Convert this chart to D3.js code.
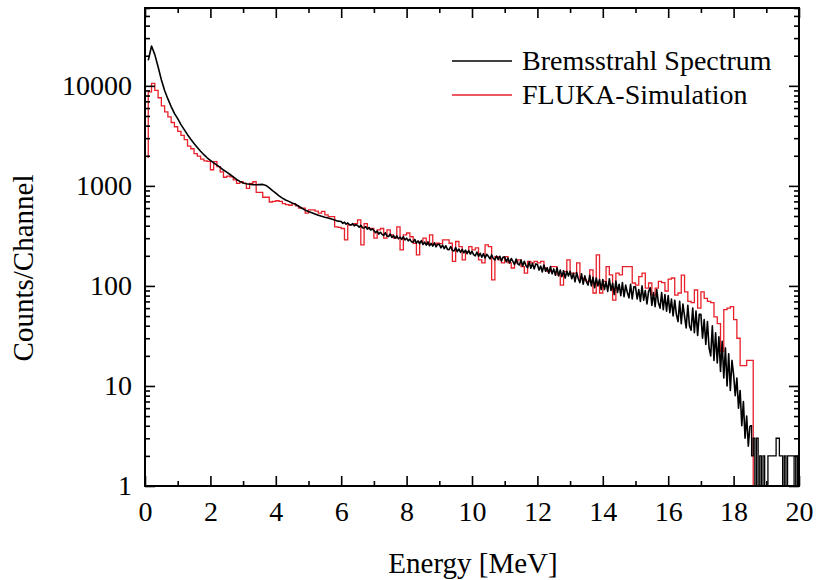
<!DOCTYPE html>
<html>
<head>
<meta charset="utf-8">
<script src="https://cdn.jsdelivr.net/npm/d3@7"></script>
<style>
  body { margin: 0; background: #fff; }
  text { font-family: "Liberation Serif", "Times New Roman", serif; fill: #000; }
</style>
</head>
<body>
<div id="chart"></div>
<script>
// Measured spectrum, low part: one value every 0.1 MeV from 0.1 to 5.9 MeV
const bremsLowStart = 0.1;
const bremsLowStep = 0.1;
const bremsLow = [
  18000, 25000, 20500, 15500, 11500, 9000, 7400, 6200, 5300, 4700,
  4100, 3650, 3250, 2920, 2650, 2420, 2220, 2050, 1910, 1800,
  1700, 1610, 1530, 1440, 1370, 1300, 1230, 1160, 1110, 1070,
  1050, 1040, 1030, 1025, 1030, 1035, 1010, 955, 895, 845,
  795, 755, 722, 700, 675, 655, 625, 598, 572, 555,
  540, 524, 508, 497, 486, 477, 466, 455, 444
];

// Measured spectrum, noisy part: one value every 0.05 MeV from 6.0 to 18.45 MeV
const bremsHighStart = 6.0;
const bremsHighStep = 0.05;
const bremsHigh = [
  440, 422, 434, 414, 426, 410, 406, 420, 398, 410, 402, 386, 404, 382, 380, 392, 370, 384, 362, 372,
  358, 340, 354, 330, 344, 328, 320, 340, 316, 312, 330, 306, 318, 300, 316, 296, 308, 292, 310, 288,
  300, 282, 294, 276, 274, 292, 268, 282, 264, 284, 260, 274, 256, 276, 252, 266, 250, 270, 246, 260,
  260, 240, 256, 236, 252, 232, 230, 248, 226, 224, 242, 220, 234, 216, 232, 214, 228, 210, 226, 208,
  222, 206, 200, 218, 198, 212, 194, 210, 190, 207, 198, 186, 204, 188, 182, 199, 184, 198, 178, 194,
  194, 174, 190, 170, 188, 176, 164, 186, 166, 162, 182, 158, 176, 160, 152, 174, 150, 168, 148, 166,
  164, 144, 158, 138, 162, 140, 152, 134, 156, 132, 148, 128, 152, 126, 144, 124, 142, 120, 140, 126,
  140, 118, 134, 110, 136, 118, 108, 132, 104, 126, 110, 102, 128, 100, 122, 96, 120, 100, 116, 92,
  116, 92, 110, 88, 118, 90, 106, 82, 112, 86, 104, 80, 108, 78, 102, 86, 76, 104, 74, 98,
  98, 74, 92, 70, 100, 72, 90, 66, 88, 96, 64, 86, 62, 92, 68, 60, 86, 58, 82, 56,
  80, 54, 74, 50, 72, 52, 44, 70, 42, 66, 50, 38, 64, 40, 36, 60, 34, 56, 32, 52,
  52, 30, 46, 26, 44, 24, 20, 40, 18, 34, 17, 31, 14, 28, 12, 24, 10, 21, 9, 18,
  13, 8, 12, 6, 9, 4, 7, 3, 5, 2.5
];

// Tail of the measured spectrum, channels of 0.05 MeV from 18.5 to 20 MeV
const tailStart = 18.5;
const tailStep = 0.05;
const tailCounts = [
  4, 2, 3, 1, 3, 1, 2, 1, 2, 1,
  1, 2, 2, 2, 2, 2, 3, 3, 2, 2,
  1, 2, 1, 2, 2, 2, 2, 1, 2, 1, 1
];

// FLUKA histogram: start level at 0.1 MeV, then one value per 0.1 MeV bin up to 19 MeV
const flukaStart = 0.1;
const flukaStep = 0.1;
const flukaCounts = [
  1900,
  8700, 10600, 9000, 7600, 6300, 5500, 4900, 4300, 3900,
  3500, 3200, 2900, 2500, 2350, 2100, 1980, 1850, 1780, 1760,
  1450, 1750, 1560, 1380, 1220, 1250, 1230, 1150, 1060, 1100,
  1060, 944, 1060, 1100, 860, 860, 770, 770, 690, 700,
  710, 700, 666, 650, 640, 666, 630, 600, 600, 535,
  575, 575, 560, 535, 555, 513, 493, 493, 390, 385,
  375, 288, 407, 410, 420, 457, 257, 420, 375, 375,
  300, 363, 375, 300, 363, 324, 300, 390, 229, 324,
  338, 310, 267, 204, 275, 300, 260, 324, 260, 267,
  265, 288, 288, 267, 176, 278, 247, 182, 220, 247,
  229, 240, 182, 170, 257, 247, 115, 196, 182, 170,
  196, 170, 151, 170, 182, 156, 134, 176, 170, 176,
  170, 176, 151, 139, 156, 156, 129, 102, 139, 182,
  134, 134, 170, 119, 115, 111, 145, 85, 204, 85,
  111, 156, 129, 72, 134, 129, 156, 156, 156, 107,
  102, 124, 134, 95, 107, 81, 95, 111, 108, 89,
  117, 120, 81, 85, 128, 87, 70, 68, 91, 60,
  87, 75, 70, 68, 49, 42, 22, 58, 60, 62,
  46, 30, 16, 16, 18, 18, 1, 1, 1, 1
];

const xTicks = [0, 2, 4, 6, 8, 10, 12, 14, 16, 18, 20];
const xMinorTicks = [1, 3, 5, 7, 9, 11, 13, 15, 17, 19];
const yTicks = [1, 10, 100, 1000, 10000];

const seriesNames = ["Bremsstrahl Spectrum", "FLUKA-Simulation"];
const seriesColors = ["#000000", "#e8202a"];

const width = 819;
const height = 580;
const margin = { top: 8, right: 20, bottom: 94, left: 145 };

const svg = d3.select("#chart")
  .append("svg")
  .attr("width", width)
  .attr("height", height);

const x = d3.scaleLinear()
  .domain([0, 20])
  .range([margin.left, width - margin.right]);

const y = d3.scaleLog()
  .domain([1, 60000])
  .range([height - margin.bottom, margin.top])
  .clamp(true);

// minor log ticks 2..9 of every decade
const yMinorTicks = [];
for (let p = 1; p <= 10000; p *= 10) {
  for (let m = 2; m <= 9; m++) {
    if (m * p <= 60000) yMinorTicks.push(m * p);
  }
}

const bremsData = bremsLow.map((v, i) => ({ e: bremsLowStart + i * bremsLowStep, v }))
  .concat(bremsHigh.map((v, i) => ({ e: bremsHighStart + i * bremsHighStep, v })))
  .concat([{ e: tailStart, v: tailCounts[0] }]);
const tailData = tailCounts.map((v, i) => ({ e: tailStart + i * tailStep, v }));
const flukaData = flukaCounts.map((v, i) => ({ e: flukaStart + i * flukaStep, v }));

svg.append("clipPath").attr("id", "plot-clip")
  .append("rect")
  .attr("x", margin.left)
  .attr("y", margin.top)
  .attr("width", width - margin.left - margin.right)
  .attr("height", height - margin.top - margin.bottom);

const plot = svg.append("g").attr("clip-path", "url(#plot-clip)");

// FLUKA histogram
plot.append("path")
  .datum(flukaData)
  .attr("fill", "none")
  .attr("stroke", seriesColors[1])
  .attr("stroke-width", 1.3)
  .attr("d", d3.line().x(d => x(d.e)).y(d => y(d.v)).curve(d3.curveStepBefore));

// Measured spectrum
plot.append("path")
  .datum(bremsData)
  .attr("fill", "none")
  .attr("stroke", seriesColors[0])
  .attr("stroke-width", 1.6)
  .attr("stroke-linejoin", "round")
  .attr("d", d3.line().x(d => x(d.e)).y(d => y(d.v)));

plot.append("path")
  .datum(tailData)
  .attr("fill", "none")
  .attr("stroke", seriesColors[0])
  .attr("stroke-width", 1.3)
  .attr("d", d3.line().x(d => x(d.e)).y(d => y(d.v)).curve(d3.curveStepAfter));

// Axes with inward ticks on all four sides
const bottomY = height - margin.bottom;
const rightX = width - margin.right;

function styleAxis(g) {
  g.select(".domain").remove();
  g.selectAll(".tick line").attr("stroke", "#000").attr("stroke-width", 1.6);
  g.selectAll(".tick text").attr("font-size", 28).attr("font-family", "Liberation Serif");
}

svg.append("g")
  .attr("transform", `translate(0,${bottomY})`)
  .call(d3.axisBottom(x).tickValues(xTicks).tickSize(-10).tickPadding(15).tickFormat(d3.format("d")))
  .call(styleAxis);
svg.append("g")
  .attr("transform", `translate(0,${bottomY})`)
  .call(d3.axisBottom(x).tickValues(xMinorTicks).tickSize(-5).tickFormat(""))
  .call(styleAxis);
svg.append("g")
  .attr("transform", `translate(0,${margin.top})`)
  .call(d3.axisTop(x).tickValues(xTicks).tickSize(-10).tickFormat(""))
  .call(styleAxis);
svg.append("g")
  .attr("transform", `translate(0,${margin.top})`)
  .call(d3.axisTop(x).tickValues(xMinorTicks).tickSize(-5).tickFormat(""))
  .call(styleAxis);

svg.append("g")
  .attr("transform", `translate(${margin.left},0)`)
  .call(d3.axisLeft(y).tickValues(yTicks).tickSize(-10).tickPadding(13).tickFormat(d3.format("d")))
  .call(styleAxis);
svg.append("g")
  .attr("transform", `translate(${margin.left},0)`)
  .call(d3.axisLeft(y).tickValues(yMinorTicks).tickSize(-5).tickFormat(""))
  .call(styleAxis);
svg.append("g")
  .attr("transform", `translate(${rightX},0)`)
  .call(d3.axisRight(y).tickValues(yTicks).tickSize(-10).tickFormat(""))
  .call(styleAxis);
svg.append("g")
  .attr("transform", `translate(${rightX},0)`)
  .call(d3.axisRight(y).tickValues(yMinorTicks).tickSize(-5).tickFormat(""))
  .call(styleAxis);

// frame
svg.append("rect")
  .attr("x", margin.left)
  .attr("y", margin.top)
  .attr("width", rightX - margin.left)
  .attr("height", bottomY - margin.top)
  .attr("fill", "none")
  .attr("stroke", "#000")
  .attr("stroke-width", 2);

// axis titles
svg.append("text")
  .attr("x", 473)
  .attr("y", 573)
  .attr("text-anchor", "middle")
  .attr("font-size", 29)
  .text("Energy [MeV]");

svg.append("text")
  .attr("transform", "translate(33,268) rotate(-90)")
  .attr("text-anchor", "middle")
  .attr("font-size", 29)
  .text("Counts/Channel");

// legend
const legend = svg.append("g").attr("transform", "translate(452,61)");
seriesNames.forEach((name, i) => {
  const row = legend.append("g").attr("transform", `translate(0,${i * 34})`);
  row.append("line")
    .attr("x1", 0).attr("x2", 60)
    .attr("stroke", seriesColors[i])
    .attr("stroke-width", 1.4);
  row.append("text")
    .attr("x", 70)
    .attr("y", 9)
    .attr("font-size", 28)
    .text(name);
});
</script>
</body>
</html>
